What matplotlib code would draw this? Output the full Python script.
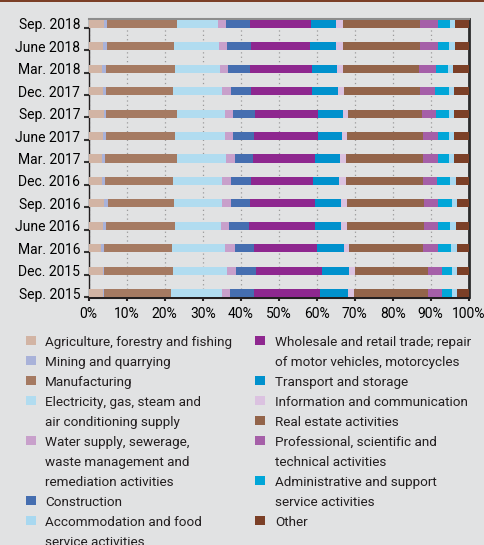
import matplotlib
matplotlib.use("Agg")
import matplotlib.pyplot as plt
import numpy as np
from matplotlib import font_manager
from matplotlib.patches import Rectangle

quarters = ["Sep. 2015", "Dec. 2015", "Mar. 2016", "June 2016", "Sep. 2016", "Dec. 2016",
            "Mar. 2017", "June 2017", "Sep. 2017", "Dec. 2017", "Mar. 2018", "June 2018",
            "Sep. 2018"]

# shares in %, one value per quarter (same order as quarters)
agriculture = [3.8, 3.8, 3.2, 3.8, 4.0, 3.5, 3.5, 3.7, 4.1, 3.7, 3.5, 3.7, 4.0]
mining = [0.2, 0.2, 0.8, 0.8, 1.1, 0.8, 0.8, 0.9, 0.5, 0.9, 1.1, 1.1, 0.8]
manufacturing = [17.7, 18.2, 17.9, 18.1, 17.4, 17.9, 18.9, 18.1, 18.6, 17.6, 18.1, 17.7, 18.4]
electricity = [13.4, 14.2, 14.0, 12.1, 12.6, 12.9, 12.9, 13.2, 12.7, 12.9, 11.9, 11.8, 10.8]
water = [2.1, 2.4, 2.6, 2.1, 2.4, 2.4, 2.4, 2.1, 2.1, 2.4, 2.1, 2.1, 2.1]
construction = [6.3, 5.2, 5.0, 5.3, 5.0, 5.2, 4.7, 5.5, 5.8, 5.2, 5.8, 6.3, 6.4]
wholesale = [17.4, 17.4, 16.6, 17.4, 17.1, 16.3, 16.4, 16.8, 16.5, 16.1, 16.3, 15.5, 16.0]
transport = [7.4, 7.1, 7.1, 6.8, 6.8, 6.9, 6.6, 6.3, 6.6, 6.8, 6.5, 6.9, 6.6]
information = [1.6, 1.6, 1.3, 1.5, 1.5, 1.9, 1.6, 1.3, 1.3, 1.6, 1.6, 1.8, 1.8]
real_estate = [19.4, 19.2, 19.4, 20.3, 20.3, 20.1, 20.1, 20.0, 19.5, 20.0, 20.0, 20.3, 20.3]
professional = [3.7, 3.7, 4.0, 3.7, 3.7, 3.7, 4.0, 4.0, 3.7, 3.9, 4.5, 4.7, 4.7]
administrative = [2.6, 2.6, 3.5, 3.2, 3.7, 3.5, 2.9, 2.9, 3.4, 3.7, 3.2, 2.9, 3.2]
accommodation = [1.3, 1.3, 1.5, 1.5, 1.3, 1.5, 1.3, 1.3, 1.3, 1.3, 1.3, 1.6, 1.3]
other = [3.1, 3.1, 3.1, 3.4, 3.1, 3.4, 3.9, 3.9, 3.9, 3.9, 4.1, 3.6, 3.6]

# stacking order in the bars
series = [
    ("Agriculture, forestry and fishing", agriculture, "#d2b4a4"),
    ("Mining and quarrying", mining, "#a9b2d9"),
    ("Manufacturing", manufacturing, "#a57a62"),
    ("Electricity, gas, steam and\nair conditioning supply", electricity, "#b1dcf0"),
    ("Water supply, sewerage,\nwaste management and\nremediation activities", water, "#c8a0cb"),
    ("Construction", construction, "#456eb0"),
    ("Wholesale and retail trade; repair\nof motor vehicles, motorcycles", wholesale, "#8e278f"),
    ("Transport and storage", transport, "#0091cd"),
    ("Information and communication", information, "#dbc2e0"),
    ("Real estate activities", real_estate, "#93644a"),
    ("Professional, scientific and\ntechnical activities", professional, "#a55fa8"),
    ("Administrative and support\nservice activities", administrative, "#00a6d8"),
    ("Accommodation and food\nservice activities", accommodation, "#a8d8f0"),
    ("Other", other, "#7b3f27"),
]

legend_col1 = [0, 1, 2, 3, 4, 5, 12]
legend_col2 = [6, 7, 8, 9, 10, 11, 13]

BG = "#e1e2e3"
W, H = 484, 545

names = {f.name for f in font_manager.fontManager.ttflist}
if "Liberation Sans Narrow" in names:
    FONT, FS, FS_AX = "Liberation Sans Narrow", 11.5, 11.5
else:
    FONT, FS, FS_AX = "Roboto", 9.7, 10
plt.rcParams["font.family"] = [FONT, "DejaVu Sans"]
plt.rcParams["text.color"] = "#231f20"


def main() -> None:
    fig = plt.figure(figsize=(W / 100, H / 100), dpi=100, facecolor=BG)
    ax = fig.add_axes([88.7 / W, 1 - 297.5 / H, 380 / W, 278.2 / H])
    ax.set_facecolor(BG)

    y = np.arange(len(quarters))
    left = np.zeros(len(quarters))
    for label, vals, color in series:
        ax.barh(y, vals, left=left, height=0.36, color=color, zorder=3)
        left += np.array(vals)

    ax.set_xlim(0, 100)
    ax.set_ylim(-0.19, 12.2)
    ax.set_xticks(np.arange(0, 101, 10))
    ax.set_xticklabels([f"{v}%" for v in range(0, 101, 10)], fontsize=FS_AX)
    ax.set_yticks(y)
    ax.set_yticklabels(quarters, fontsize=FS_AX)
    ax.set_yticks(y - 0.17, minor=True)
    ax.tick_params(axis="y", which="major", length=0, pad=6)
    ax.tick_params(axis="y", which="minor", length=3.5, width=1.5, color="#333333")
    ax.tick_params(axis="x", length=2.5, width=1.5, color="#231f20", pad=4)

    ax.grid(axis="x", color="#9a9a9a", linestyle=(0, (1, 2.5)), linewidth=0.9, zorder=0)
    ax.set_axisbelow(True)

    ax.spines["left"].set_color("#231f20")
    ax.spines["left"].set_linewidth(1.0)
    ax.spines["bottom"].set_color("#231f20")
    ax.spines["bottom"].set_linewidth(1.5)
    ax.spines["top"].set_color("#8c8c8c")
    ax.spines["top"].set_linewidth(1.5)
    ax.spines["right"].set_color("#2b2b2b")
    ax.spines["right"].set_linewidth(2.0)

    # thin brown band along the top edge
    fig.add_artist(Rectangle((0, 1 - 2 / H), 1, 2 / H, transform=fig.transFigure,
                             color="#7b3f27", lw=0))

    # legend, drawn by hand so the swatch lines up with the first text line
    for idxs, sx, tx in ((legend_col1, 26, 45), (legend_col2, 255, 275)):
        row = 0
        for i in idxs:
            label, _, color = series[i]
            yc = 340 + 20 * row
            fig.add_artist(Rectangle((sx / W, 1 - (yc + 5) / H), 10 / W, 9 / H,
                                     transform=fig.transFigure, color=color, lw=0))
            for k, line in enumerate(label.split("\n")):
                fig.text(tx / W, 1 - (yc + 6 + 20 * k) / H, line, fontsize=FS,
                         va="baseline", ha="left")
            row += len(label.split("\n"))

    fig.savefig("out.png", dpi=100, facecolor=BG)
    plt.close(fig)


if __name__ == "__main__":
    main()
